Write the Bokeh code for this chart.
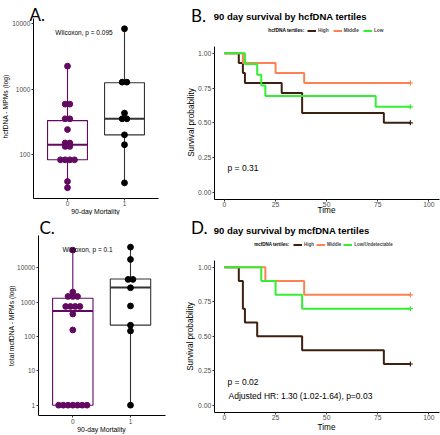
import numpy as np
from bokeh.plotting import figure
from bokeh.models import Range1d, Label, FixedTicker, PrintfTickFormatter, Legend, LegendItem
from bokeh.layouts import column, row
from bokeh.embed import file_html
from bokeh.resources import INLINE

# ---------------- data ----------------
mortality_groups = ["0", "1"]
# panel A: hcfDNA MPMs by 90-day mortality
hcf_mort0 = [2250, 590, 590, 352, 352, 241, 150, 150, 133, 133, 83, 83, 83, 83, 38.6, 31]
hcf_mort1 = [8400, 1280, 1280, 430, 352, 352, 200, 141, 36.8]
hcf_q1 = [83, 200]
hcf_med = [141, 352]
hcf_q3 = [330, 1250]
hcf_test = "Wilcoxon, p = 0.095"
# panel C: total mcfDNA MPMs by 90-day mortality
mcf_mort0 = [32700, 1970, 1465, 1465, 1465, 750, 750, 750, 750, 451, 155, 1, 1, 1, 1, 1, 1, 1]
mcf_mort1 = [40000, 17500, 4600, 4600, 2630, 774, 213, 145, 1]
mcf_q1 = [1, 215]
mcf_med = [550, 2680]
mcf_q3 = [1300, 4700]
mcf_test = "Wilcoxon, p = 0.1"
log_ticks_a = [100, 1000, 10000]
log_ticks_c = [1, 10, 100, 1000, 10000]

# panel B: KM by hcfDNA tertiles
b_groups = ["High", "Middle", "Low"]
b_high_t = [0, 7, 9, 10, 28, 38, 78, 91]
b_high_s = [1, 0.929, 0.857, 0.786, 0.714, 0.571, 0.5, 0.5]
b_mid_t = [0, 9, 25, 39, 91]
b_mid_s = [1, 0.929, 0.857, 0.786, 0.786]
b_low_t = [0, 10, 16, 18, 20, 74, 91]
b_low_s = [1, 0.923, 0.846, 0.769, 0.692, 0.615, 0.615]
b_pval = "p = 0.31"
# panel D: KM by mcfDNA tertiles
d_groups = ["High", "Middle", "Low/Undetectable"]
d_high_t = [0, 7, 9, 10, 16, 38, 78, 91]
d_high_s = [1, 0.9, 0.7, 0.6, 0.5, 0.4, 0.3, 0.3]
d_mid_t = [0, 20, 39, 91]
d_mid_s = [1, 0.9, 0.8, 0.8]
d_low_t = [0, 18, 25, 38, 91]
d_low_s = [1, 0.9, 0.8, 0.7, 0.7]
d_pval = "p = 0.02"
d_hr = "Adjusted HR: 1.30 (1.02-1.64), p=0.03"
time_ticks = [0, 25, 50, 75, 100]
surv_ticks = [0, 0.25, 0.5, 0.75, 1.0]

# ---------------- styling / layout ----------------
W1, W2, H1, H2 = 178, 262, 215, 220
FONT = "Liberation Sans"
PURPLE = "#620a62"
KM_COLORS = ["#3c2010", "#ff8050", "#33ee33"]


class Panel:
    """A figure whose frame fills the whole canvas; pixel anchors -> data ranges."""

    def __init__(self, ox, oy, W, H, xa, xpx, kx, ya, ypx, ky, log=False):
        self.ox, self.oy, self.W, self.H = ox, oy, W, H
        self.xa, self.xpx, self.kx = xa, xpx, kx
        self.ya, self.ypx, self.ky, self.log = ya, ypx, ky, log
        x0 = xa - (xpx - ox) / kx
        x1 = xa + (ox + W - xpx) / kx
        yt = ya + (ypx - oy) / ky
        yb = ya - (oy + H - ypx) / ky
        if log:
            yt, yb = 10 ** yt, 10 ** yb
        self.p = figure(width=W, height=H, x_range=Range1d(x0, x1), y_range=Range1d(yb, yt),
                        y_axis_type="log" if log else "linear",
                        output_backend="svg", toolbar_location=None, title=None,
                        min_border=0, min_border_left=0, min_border_right=0,
                        min_border_top=0, min_border_bottom=0)
        p = self.p
        p.outline_line_color = None
        p.grid.visible = False
        p.background_fill_color = "white"
        p.border_fill_color = "white"
        for ax in [p.xaxis[0], p.yaxis[0]]:
            ax.axis_line_color = "black"
            ax.axis_line_width = 1
            ax.major_tick_line_color = "#333333"
            ax.major_tick_out = 2
            ax.major_tick_in = 0
            ax.minor_tick_line_color = None
            ax.major_label_text_color = "#4d4d4d"
            ax.major_label_text_font = FONT
            ax.major_label_standoff = 1

    def dx(self, px):
        return self.xa + (px - self.xpx) / self.kx

    def dy(self, py):
        v = self.ya - (py - self.ypx) / self.ky
        return 10 ** v if self.log else v

    def axes(self, xlo, xhi, ylo, yhi):
        p = self.p
        p.xaxis.fixed_location = ylo
        p.xaxis.bounds = (xlo, xhi)
        p.yaxis.fixed_location = xlo
        p.yaxis.bounds = (ylo, yhi)

    def text(self, rx, ry, txt, size, align="left", baseline="alphabetic", bold=False,
             font=FONT, angle=0.0, color="black"):
        self.p.add_layout(Label(x=self.dx(rx), y=self.dy(ry), text=txt, text_font=font,
                                text_font_size=f"{size}px", text_align=align,
                                text_baseline=baseline, angle=angle,
                                text_font_style="bold" if bold else "normal",
                                text_color=color))

    def legend_loc(self, rx_left, ry_bottom):
        return (rx_left - self.ox, self.oy + self.H - ry_bottom)


def beeswarm(vals, center, dx):
    vals = np.asarray(vals, float)
    xs = np.empty_like(vals)
    for v in np.unique(vals):
        idx = np.where(vals == v)[0]
        k = len(idx)
        xs[idx] = center + (np.arange(k) - (k - 1) / 2.0) * dx
    return xs


def box_panel(P, groups_vals, q1, med, q3, ticks):
    p = P.p
    colors = [PURPLE, "black"]
    box_cols = [PURPLE, "#333333"]
    half = 0.35
    for i, vals in enumerate(groups_vals):
        lo, hi = min(vals), max(vals)
        p.segment(x0=[i, i], y0=[lo, q3[i]], x1=[i, i], y1=[q1[i], hi],
                  line_color=box_cols[i], line_width=1.1)
        p.quad(left=[i - half], right=[i + half], bottom=[q1[i]], top=[q3[i]],
               fill_color="white", line_color=box_cols[i], line_width=1.1)
        p.segment(x0=[i - half], x1=[i + half], y0=[med[i]], y1=[med[i]],
                  line_color=box_cols[i], line_width=2)
    for i, vals in enumerate(groups_vals):
        xs = beeswarm(vals, i, 0.082)
        p.scatter(xs, vals, size=5.8, color=colors[i], line_color=colors[i])
    p.xaxis.ticker = FixedTicker(ticks=[0, 1])
    p.xaxis.major_label_overrides = {i: g for i, g in enumerate(mortality_groups)}
    p.xaxis.major_label_text_font_size = "6.5px"
    p.yaxis.ticker = FixedTicker(ticks=ticks)
    p.yaxis.formatter = PrintfTickFormatter(format="%d")
    p.yaxis.major_label_text_font_size = "6.5px"


def km_panel(P, curves, names, legend_loc, legend_spacing, legend_font):
    p = P.p
    items = []
    for (t, s), name, col in zip(curves, names, KM_COLORS):
        r1 = p.step(t, s, mode="after", line_color=col, line_width=2)
        r2 = p.scatter([t[-1]], [s[-1]], marker="cross", size=5, line_color=col, line_width=1.2)
        items.append(LegendItem(label=name, renderers=[r1, r2]))
    leg = Legend(items=items, orientation="horizontal", location=legend_loc,
                 glyph_width=9, glyph_height=5, label_standoff=2, spacing=legend_spacing,
                 padding=0, margin=0, label_height=5, label_width=1,
                 label_text_font_size=f"{legend_font}px", label_text_font_style="bold",
                 label_text_font=FONT, border_line_color=None, background_fill_alpha=0)
    p.add_layout(leg)
    p.xaxis.ticker = FixedTicker(ticks=time_ticks)
    p.xaxis.formatter = PrintfTickFormatter(format="%d")
    p.yaxis.ticker = FixedTicker(ticks=surv_ticks)
    p.yaxis.formatter = PrintfTickFormatter(format="%.2f")
    p.xaxis.major_label_text_font_size = "6.8px"
    p.yaxis.major_label_text_font_size = "6.8px"


HALF_PI = np.pi / 2

# ---- Panel A ----
A = Panel(0, 0, W1, H1, 0, 67, 57, 4, 23.3, 65.35, log=True)
A.axes(-0.6, 1.6, 10 ** 1.327, 10 ** 4.081)
box_panel(A, [hcf_mort0, hcf_mort1], hcf_q1, hcf_med, hcf_q3, log_ticks_a)
A.text(29, 13.5, "A.", 17, font="Lato")
A.text(83.5, 31.5, hcf_test, 6.5, align="center")
A.text(5, 106, "hcfDNA - MPMs (log)", 6.8, align="center", baseline="middle", angle=HALF_PI)
A.text(95, 210.5, "90-day Mortality", 6.8, align="center", baseline="middle")

# ---- Panel B ----
B = Panel(W1, 0, W2, H1, 0, 224, 2.043, 1, 52.7, 139.3)
B.axes(-5, 105, -0.05, 1.05)
km_panel(B, [(b_high_t, b_high_s), (b_mid_t, b_mid_s), (b_low_t, b_low_s)], b_groups,
         B.legend_loc(307, 33), 4, 4.8)
B.text(190.5, 15, "B.", 17, font="Lato")
B.text(213.3, 15.5, "90 day survival by hcfDNA tertiles", 9.5, bold=True)
B.text(304, 30, "hcfDNA tertiles:", 4.8, align="right", baseline="middle", bold=True)
B.text(227, 167, b_pval, 8.5)
B.text(191, 122, "Survival probability", 8.2, align="center", baseline="middle", angle=HALF_PI)
B.text(326, 209.5, "Time", 8.2, align="center", baseline="middle")

# ---- Panel C ----
C = Panel(0, H1, W1, H2, 0, 72.3, 57.7, 4, 267.3, 34.35, log=True)
C.axes(-0.6, 1.6, 10 ** -0.30, 10 ** 4.94)
box_panel(C, [mcf_mort0, mcf_mort1], mcf_q1, mcf_med, mcf_q3, log_ticks_c)
C.text(39, 227, "C.", 17, font="Lato")
C.text(87, 249.3, mcf_test, 6.5, align="center")
C.text(10.5, 325, "total mcfDNA - MPMs (log)", 6.8, align="center", baseline="middle", angle=HALF_PI)
C.text(101, 429, "90-day Mortality", 6.8, align="center", baseline="middle")

# ---- Panel D ----
D = Panel(W1, H1, W2, H2, 0, 224, 2.043, 1, 266.7, 138.3)
D.axes(-5, 105, -0.05, 1.05)
km_panel(D, [(d_high_t, d_high_s), (d_mid_t, d_mid_s), (d_low_t, d_low_s)], d_groups,
         D.legend_loc(293, 247), 2, 4.5)
D.text(190.5, 227, "D.", 17, font="Lato")
D.text(213.3, 230, "90 day survival by mcfDNA tertiles", 9.5, bold=True)
D.text(289, 244, "mcfDNA tertiles:", 4.5, align="right", baseline="middle", bold=True)
D.text(227, 381, d_pval, 8.5)
D.text(228, 395.5, d_hr, 8.5)
D.text(190, 336, "Survival probability", 8.2, align="center", baseline="middle", angle=HALF_PI)
D.text(326, 427, "Time", 8.2, align="center", baseline="middle")

layout = column(row(A.p, B.p), row(C.p, D.p))
open("out.html", "w").write(file_html(layout, INLINE))
